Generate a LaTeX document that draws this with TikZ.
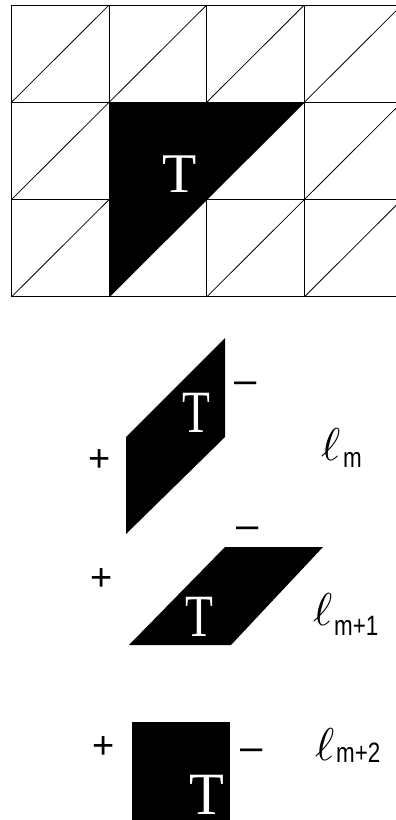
\documentclass[tikz,border=0pt]{standalone}
\usepackage{fontspec}
\setmainfont{Liberation Serif}
\newfontfamily\sansf{Liberation Sans}
\begin{document}
\begin{tikzpicture}[x=1pt,y=-1pt,
  gridline/.style={line width=1pt},
  diag/.style={line width=0.8pt},
  shade/.style={fill=black},
  tgrid/.style={text=white, font=\fontsize{56}{56}\selectfont, inner sep=0pt},
  tlow/.style={text=white, font=\fontsize{60}{60}\selectfont, inner sep=0pt},
  sign/.style={font=\sansf\fontsize{38}{38}\selectfont, inner sep=0pt},
  dashsign/.style={font=\sansf\fontsize{40}{40}\selectfont, inner sep=0pt},
  ellmark/.style={inner sep=0pt, anchor=base west},
  sublabel/.style={inner sep=0pt, anchor=base west, font=\sansf\fontsize{28}{28}\selectfont}]
\useasboundingbox (0,0) rectangle (396,820);
\clip (0,0) rectangle (396,820);
% grid
\def\xa{11.5}\def\dx{97.6}\def\ya{5}\def\dy{97.3}
\foreach \i in {0,...,4}{
  \draw[gridline] ({\xa+\dx*\i},\ya) -- ({\xa+\dx*\i},{\ya+3*\dy});
}
\foreach \j in {0,...,3}{
  \draw[gridline] (\xa,{\ya+\dy*\j}) -- ({\xa+4*\dx},{\ya+\dy*\j});
}
\foreach \i in {0,...,3}{
  \foreach \j in {0,...,2}{
    \draw[diag] ({\xa+\dx*\i},{\ya+\dy*(\j+1)}) -- ({\xa+\dx*(\i+1)},{\ya+\dy*\j});
  }
}
% shaded triangle
\fill[shade] ({\xa+\dx},{\ya+\dy}) -- ({\xa+3*\dx},{\ya+\dy}) -- ({\xa+\dx},{\ya+3*\dy}) -- cycle;
\node[tgrid] (tg) at (180,174) {T};
% parallelogram l_m
\fill[shade] (126,534) -- (126,437) -- (225,338) -- (225,437) -- cycle;
\node[tlow] (t1) at (196,413) {\scalebox{0.76}[1]{T}};
\node[sign] (p1) at (100,461) {+};
\node[dashsign] (m1) at (246,388) {–};
\node[ellmark] (l1) at (321,460) {\scalebox{4.6}{$\ell$}};
\node[sublabel] (s1) at (343,467) {\scalebox{0.8}[1]{m}};
% parallelogram l_{m+1}
\fill[shade] (129,645) -- (231,645) -- (323,547) -- (225,547) -- cycle;
\node[tlow] (t2) at (199,617) {\scalebox{0.76}[1]{T}};
\node[sign] (p2) at (102,580) {+};
\node[dashsign] (m2) at (248,533) {–};
\node[ellmark] (l2) at (313,625) {\scalebox{4.6}{$\ell$}};
\node[sublabel] (s2) at (334,635) {\scalebox{0.8}[1]{m+1}};
% square l_{m+2}
\fill[shade] (132,722) rectangle (230,822);
\node[tlow] (t3) at (207,795) {\scalebox{0.95}[1]{T}};
\node[sign] (p3) at (104,748) {+};
\node[dashsign] (m3) at (252,755) {–};
\node[ellmark] (l3) at (315,760) {\scalebox{4.6}{$\ell$}};
\node[sublabel] (s3) at (336,762) {\scalebox{0.8}[1]{m+2}};
\end{tikzpicture}
\end{document}
